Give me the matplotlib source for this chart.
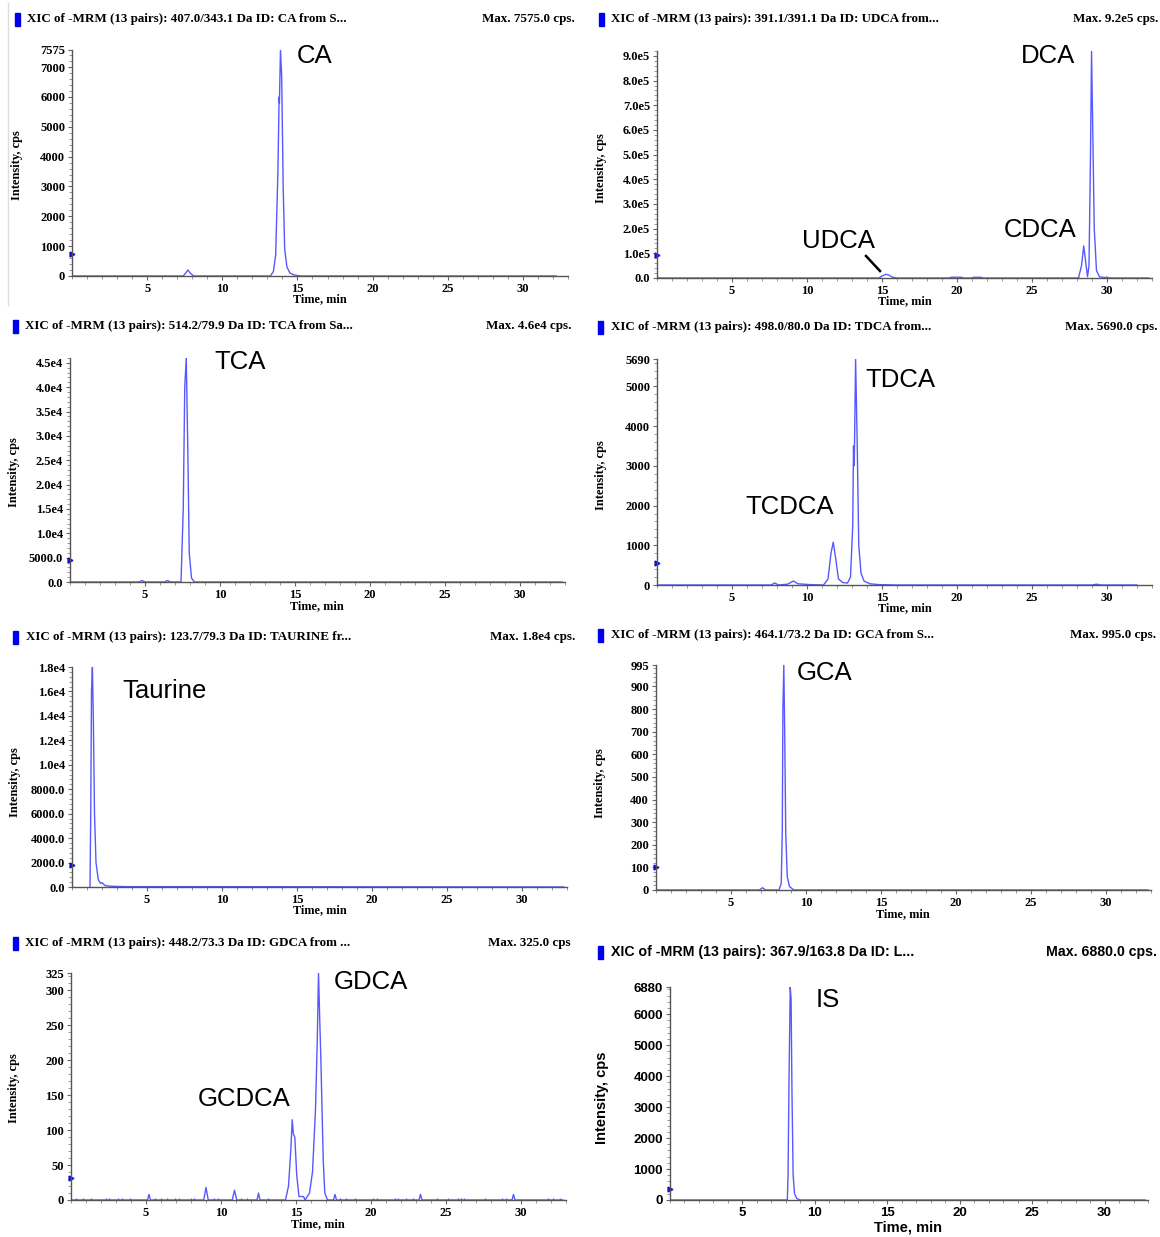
import matplotlib
matplotlib.use("Agg")
import matplotlib.pyplot as plt
from matplotlib.patches import Rectangle
from matplotlib.lines import Line2D
from matplotlib.ticker import MultipleLocator

# ---- data (time in min, intensity in cps) ----
ca_t = [0.1, 7.4, 7.6, 7.7, 7.9, 8.1, 13.2, 13.4, 13.55, 13.7, 13.78, 13.8, 13.87, 13.95, 14.05, 14.15, 14.3, 14.5, 14.8, 15.2, 32.2]
ca_i = [0, 0, 120, 200, 80, 0, 0, 150, 700, 3500, 6000, 5800, 7575, 6700, 3000, 900, 300, 100, 30, 0, 0]

udca_t = [0.1, 14.8, 15.0, 15.25, 15.45, 15.7, 16.0, 19.5, 19.6, 20.3, 20.4, 21.0, 21.1, 21.6, 21.7,
          28.1, 28.3, 28.45, 28.55, 28.7, 28.8, 28.9, 28.97, 29.05, 29.15, 29.3, 29.5, 29.8, 30.0, 30.2, 32.8]
udca_i = [0, 0, 8e3, 1.5e4, 1.2e4, 3e3, 0, 0, 3e3, 3e3, 0, 0, 3e3, 3e3, 0,
          0, 5e4, 1.3e5, 8e4, 5e3, 5e4, 5e5, 9.2e5, 6e5, 2e5, 3e4, 5e3, 2e3, 3e3, 0, 0]

tca_t = [0.1, 4.6, 4.8, 5.0, 6.3, 6.5, 6.7, 7.4, 7.55, 7.65, 7.75, 7.85, 7.95, 8.1, 8.3, 32.8]
tca_i = [0, 0, 300, 0, 0, 300, 0, 0, 1.5e4, 4.0e4, 4.6e4, 2.8e4, 6e3, 800, 0, 0]

tdca_t = [0.1, 6.8, 7.6, 7.85, 8.1, 8.7, 9.1, 9.4, 10.2, 11.1, 11.4, 11.6, 11.75, 11.9, 12.1, 12.4, 12.7,
          12.9, 13.05, 13.1, 13.15, 13.24, 13.35, 13.45, 13.6, 13.8, 14.2, 14.8, 16.0, 29.0, 29.3, 29.6, 32.0]
tdca_i = [0, 0, 0, 50, 0, 20, 100, 30, 10, 0, 150, 800, 1080, 700, 150, 60, 50,
          200, 1500, 3500, 3000, 5690, 3500, 1000, 300, 100, 30, 10, 0, 0, 20, 0, 0]

taurine_t = [1.2, 1.25, 1.3, 1.36, 1.42, 1.5, 1.6, 1.75, 1.9, 2.0, 2.2, 2.6, 3.5, 8.0, 32.8]
taurine_i = [0, 6000, 1.6e4, 1.8e4, 1.4e4, 6000, 2000, 600, 300, 350, 120, 60, 30, 30, 0]

gca_t = [0.1, 6.9, 7.1, 7.3, 8.2, 8.35, 8.42, 8.46, 8.52, 8.58, 8.65, 8.75, 8.9, 9.2, 32.8]
gca_i = [0, 0, 10, 0, 0, 30, 270, 800, 995, 700, 250, 60, 15, 0, 0]

gdca_t = [0.1, 5.1, 5.2, 5.3, 8.85, 9.0, 9.15, 10.75, 10.9, 11.05, 12.4, 12.5, 12.6,
          14.3, 14.5, 14.65, 14.75, 14.82, 14.92, 15.05, 15.2, 15.5, 15.6,
          15.9, 16.1, 16.3, 16.42, 16.5, 16.58, 16.66, 16.74, 16.82, 16.92, 17.1,
          17.5, 17.6, 17.7, 23.2, 23.3, 23.4, 29.4, 29.5, 29.6, 32.8]
gdca_i = [0, 0, 8, 0, 0, 18, 0, 0, 14, 0, 0, 10, 0,
          0, 20, 70, 115, 95, 90, 35, 5, 5, 0,
          10, 40, 130, 230, 325, 260, 200, 125, 55, 10, 0,
          0, 8, 0, 0, 8, 0, 0, 8, 0, 0]
gdca_noise_t = [0.3, 0.8, 1.3, 2.3, 2.5, 3.1, 3.4, 3.9, 5.6, 6.0, 6.4, 6.9, 7.2, 8.0, 8.2, 9.5, 9.8,
                11.3, 11.7, 13.1, 17.9, 18.3, 18.9, 20.1, 20.4, 21.6, 21.8, 22.3, 22.8, 24.4, 25.1,
                25.8, 26.0, 26.2, 27.6, 28.7, 29.0, 31.8, 32.1, 32.6]

is_t = [0.1, 8.1, 8.15, 8.22, 8.3, 8.36, 8.42, 8.5, 8.6, 8.75, 9.0, 32.8]
is_i = [0, 0, 800, 4000, 6880, 6500, 3500, 800, 200, 50, 0, 0]

titles = [
    "XIC of -MRM (13 pairs): 407.0/343.1 Da ID: CA from S...",
    "XIC of -MRM (13 pairs): 391.1/391.1 Da ID: UDCA from...",
    "XIC of -MRM (13 pairs): 514.2/79.9 Da ID: TCA from Sa...",
    "XIC of -MRM (13 pairs): 498.0/80.0 Da ID: TDCA from...",
    "XIC of -MRM (13 pairs): 123.7/79.3 Da ID: TAURINE fr...",
    "XIC of -MRM (13 pairs): 464.1/73.2 Da ID: GCA from S...",
    "XIC of -MRM (13 pairs): 448.2/73.3 Da ID: GDCA from ...",
    "XIC of -MRM (13 pairs): 367.9/163.8 Da ID: L...",
]
max_texts = ["Max. 7575.0 cps.", "Max. 9.2e5 cps.", "Max. 4.6e4 cps.", "Max. 5690.0 cps.",
             "Max. 1.8e4 cps.", "Max. 995.0 cps.", "Max. 325.0 cps", "Max. 6880.0 cps."]
ymax = [7575, 9.2e5, 4.6e4, 5690, 1.8e4, 995, 325, 6880]
yticks = [
    [0, 1000, 2000, 3000, 4000, 5000, 6000, 7000, 7575],
    [0, 1e5, 2e5, 3e5, 4e5, 5e5, 6e5, 7e5, 8e5, 9e5],
    [0, 5000, 1e4, 1.5e4, 2e4, 2.5e4, 3e4, 3.5e4, 4e4, 4.5e4],
    [0, 1000, 2000, 3000, 4000, 5000, 5690],
    [0, 2000, 4000, 6000, 8000, 1e4, 1.2e4, 1.4e4, 1.6e4, 1.8e4],
    [0, 100, 200, 300, 400, 500, 600, 700, 800, 900, 995],
    [0, 50, 100, 150, 200, 250, 300, 325],
    [0, 1000, 2000, 3000, 4000, 5000, 6000, 6880],
]
ylabels = [
    ["0", "1000", "2000", "3000", "4000", "5000", "6000", "7000", "7575"],
    ["0.0", "1.0e5", "2.0e5", "3.0e5", "4.0e5", "5.0e5", "6.0e5", "7.0e5", "8.0e5", "9.0e5"],
    ["0.0", "5000.0", "1.0e4", "1.5e4", "2.0e4", "2.5e4", "3.0e4", "3.5e4", "4.0e4", "4.5e4"],
    ["0", "1000", "2000", "3000", "4000", "5000", "5690"],
    ["0.0", "2000.0", "4000.0", "6000.0", "8000.0", "1.0e4", "1.2e4", "1.4e4", "1.6e4", "1.8e4"],
    ["0", "100", "200", "300", "400", "500", "600", "700", "800", "900", "995"],
    ["0", "50", "100", "150", "200", "250", "300", "325"],
    ["0", "1000", "2000", "3000", "4000", "5000", "6000", "6880"],
]
yminor = [200, 2e4, 1000, 200, 400, 20, 10, 200]
arrow_level = [750, 0.95e5, 4500, 550, 1800, 100, 32, 350]
traces = [(ca_t, ca_i), (udca_t, udca_i), (tca_t, tca_i), (tdca_t, tdca_i),
          (taurine_t, taurine_i), (gca_t, gca_i), (gdca_t, gdca_i), (is_t, is_i)]

# ---- layout (pixels) ----
W, H = 1160, 1237
# left, bottom, right, top of each plot area
boxes = [(72, 276, 568, 50), (657, 278, 1152, 51), (70, 582, 565, 358), (657, 585, 1152, 359),
         (72, 887, 567, 667), (656, 890, 1151, 665), (71, 1200, 566, 973), (670, 1200, 1148, 987)]
title_pos = [(15, 27, 19, 575), (599, 611, 19, 1158), (13, 25, 326, 571), (598, 611, 327, 1158),
             (13, 26, 637, 575), (598, 611, 635, 1156), (13, 25, 943, 571), (598, 611, 952, 1157)]
xlab_pos = [(320, 299), (905, 301), (317, 606), (905, 608), (320, 910), (903, 914), (318, 1224), (908, 1227)]
ylab_pos = [(17, 165), (601, 168), (14, 472), (601, 475), (15, 782), (600, 783), (14, 1088), (602, 1098)]
peak_labels = [("CA", 315, 56), ("DCA", 1048, 56), ("CDCA", 1040, 230), ("UDCA", 838, 241),
               ("TCA", 240, 362), ("TDCA", 900, 380), ("TCDCA", 790, 507), ("Taurine", 165, 691),
               ("GCA", 825, 673), ("GDCA", 371, 982), ("GCDCA", 244, 1099), ("IS", 828, 1000)]

SERIF = "Liberation Serif"
SANS = "Liberation Sans"
LINE = "#5858ff"


def fx(x):
    return x / W


def fy(y):
    return 1 - y / H


fig = plt.figure(figsize=(W / 100, H / 100), dpi=100)

for k in range(8):
    l, b, r, t = boxes[k]
    ax = fig.add_axes([fx(l), fy(b), (r - l) / W, (b - t) / H])
    sans = k == 7
    fam = SANS if sans else SERIF
    tick_fs = 9.5 if sans else 9

    tt, ii = traces[k]
    ax.plot(tt, ii, color=LINE, lw=1.0)
    if k == 6:
        ax.vlines(gdca_noise_t, 0, 3, color=LINE, lw=1.0)

    ax.set_xlim(0, 33)
    ax.set_ylim(0, ymax[k])
    ax.set_xticks([5, 10, 15, 20, 25, 30])
    ax.xaxis.set_minor_locator(MultipleLocator(1))
    ax.set_yticks(yticks[k])
    ax.set_yticklabels(ylabels[k])
    ax.yaxis.set_minor_locator(MultipleLocator(yminor[k]))
    for lab in ax.get_xticklabels() + ax.get_yticklabels():
        lab.set_fontfamily(fam)
        lab.set_fontweight("bold")
        lab.set_fontsize(tick_fs)
    ax.tick_params(which="major", length=3, width=0.8, color="#666666", pad=2)
    ax.tick_params(which="minor", length=2, width=0.6, color="#888888")
    for s in ["top", "right"]:
        ax.spines[s].set_visible(False)
    for s in ["left", "bottom"]:
        ax.spines[s].set_color("#555555")
        ax.spines[s].set_linewidth(1.0)

    # small blue threshold marker on the y axis
    ax.plot([0], [arrow_level[k]], marker=">", color="#1010d0", ms=3.5, clip_on=False)

    # header line
    mx, tx, ty, rx = title_pos[k]
    head_fs = 10.2 if sans else 9.4
    fig.patches.append(Rectangle((fx(mx), fy(ty + 7)), 5 / W, 13 / H, transform=fig.transFigure,
                                 color="#0000ee", zorder=5))
    fig.text(fx(tx), fy(ty), titles[k], fontfamily=fam, fontweight="bold",
             fontsize=head_fs, va="center", ha="left")
    fig.text(fx(rx), fy(ty), max_texts[k], fontfamily=fam, fontweight="bold",
             fontsize=head_fs, va="center", ha="right")

    xl, yl = xlab_pos[k]
    fig.text(fx(xl), fy(yl), "Time, min", fontfamily=fam, fontweight="bold",
             fontsize=10.5 if sans else 8.8, ha="center", va="center")
    xl, yl = ylab_pos[k]
    fig.text(fx(xl), fy(yl), "Intensity, cps", fontfamily=fam, fontweight="bold",
             fontsize=10.5 if sans else 9, ha="center", va="center", rotation=90)

for name, x, y in peak_labels:
    fig.text(fx(x), fy(y), name, fontfamily=SANS, fontsize=18.5, ha="center", va="center")

# pointer from the UDCA label to its peak
fig.add_artist(Line2D([fx(866), fx(880)], [fy(256), fy(271)], color="black", lw=1.8))
# faint frame line on the left edge of the first panel
fig.add_artist(Line2D([fx(8), fx(8)], [fy(3), fy(305)], color="#dddddd", lw=1))

fig.savefig("out.png", dpi=100)
